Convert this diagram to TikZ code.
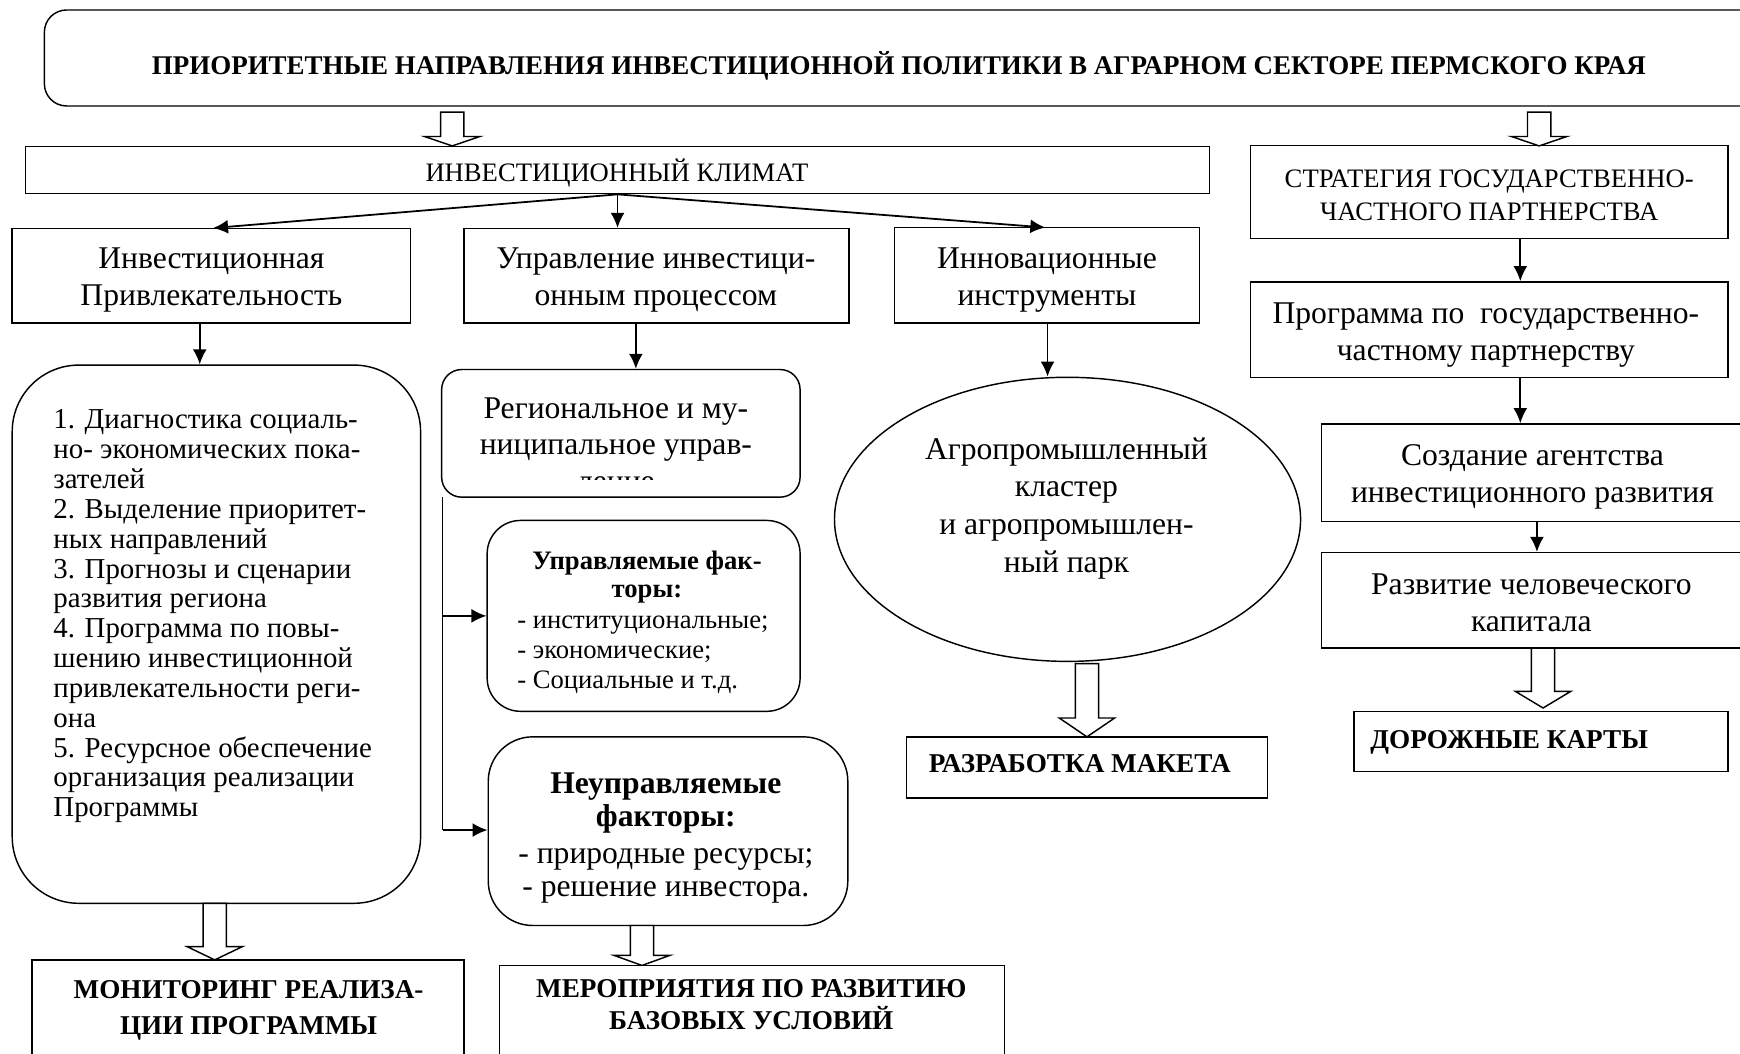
\documentclass[tikz,border=0pt]{standalone}
\usepackage{fontspec}
\setmainfont{Liberation Serif}
\usetikzlibrary{arrows.meta,shapes.geometric,calc}
\newcommand\fs[2]{\fontsize{#1}{#2}\selectfont}
\tikzset{
  bx/.style={draw, line width=1.3pt, inner sep=0pt},
  ar/.style={line width=1.6pt, -{Latex[length=13.5pt,width=12.5pt]}},
  ho/.style={draw, line width=1.3pt, fill=white, line join=miter},
  tx/.style={inner sep=0pt, align=center},
  big/.style={font=\fs{28.5}{33}},
  mid/.style={font=\fs{24}{29}},
  bcap/.style={font=\fs{24.5}{29}\bfseries},
}
% hollow block arrow: x, top y, head start y, tip y
\newcommand\harr[4]{%
  \draw[ho] ({#1-10.5},#2) -- ({#1-10.5},#3) -- ({#1-25},#3) -- (#1,#4)
    -- ({#1+25},#3) -- ({#1+10.5},#3) -- ({#1+10.5},#2) -- cycle;}
\begin{document}
\begin{tikzpicture}[x=1pt,y=-1pt]
\useasboundingbox (0,0) rectangle (1568,949);
\clip (0,0) rectangle (1568,949);

% title
\node[bx, rounded corners=20pt, minimum width=1620pt, minimum height=86.5pt] (title) at (850,52.25) {};
\node[tx, font=\fs{24.3}{28}\bfseries] (titletxt) at (810,59.5) {ПРИОРИТЕТНЫЕ НАПРАВЛЕНИЯ ИНВЕСТИЦИОННОЙ ПОЛИТИКИ В АГРАРНОМ СЕКТОРЕ ПЕРМСКОГО КРАЯ};

% level 1
\node[bx, minimum width=1067pt, minimum height=42.5pt] (klimat) at (556.5,153.25) {};
\node[tx, mid] (klimattxt) at (556,155.5) {ИНВЕСТИЦИОННЫЙ КЛИМАТ};
\node[bx, minimum width=430pt, minimum height=84pt] (strat) at (1342,173) {};
\node[tx, mid] (strattxt) at (1342,176) {СТРАТЕГИЯ ГОСУДАРСТВЕННО-\\ЧАСТНОГО ПАРТНЕРСТВА};

\harr{407.5}{101}{123}{131.5}
\harr{1387}{101}{123}{131.5}

% level 2
\node[bx, minimum width=359pt, minimum height=85pt] (inv) at (190.5,248.5) {};
\node[tx, big] (invtxt) at (190.5,252.5) {Инвестиционная\\Привлекательность};
\node[bx, minimum width=347pt, minimum height=85pt] (upr) at (591.5,248.5) {};
\node[tx, big] (uprtxt) at (591,252.5) {Управление инвестици-\\онным процессом};
\node[bx, minimum width=275pt, minimum height=86pt] (innov) at (943.5,248) {};
\node[tx, big] (innovtxt) at (943.5,252.5) {Инновационные\\инструменты};

\draw[ar] (klimat.south) -- (192,205.5);
\draw[ar] (klimat.south) -- (klimat.south |- upr.north);
\draw[ar] (klimat.south) -- (942,205);

% left column
\node[bx, rounded corners=60pt, minimum width=368pt, minimum height=485pt] (left) at (195,571.5) {};
\node[inner sep=0pt, align=left, anchor=north west, font=\fs{26}{26.9}] (lefttxt) at (48,369) {1. Диагностика социаль-\\но- экономических пока-\\зателей\\2. Выделение приоритет-\\ных направлений\\3. Прогнозы и сценарии\\развития региона\\4. Программа по повы-\\шению инвестиционной\\привлекательности реги-\\она\\5. Ресурсное обеспечение\\организация реализации\\Программы};
\draw[ar] ([xshift=-10.5pt]inv.south) -- ([xshift=-10.5pt]inv.south |- left.north);

% middle column
\node[bx, rounded corners=18pt, minimum width=323pt, minimum height=115pt] (region) at (559.5,390.5) {};
\begin{scope}
  \clip (398,333) rectangle (721,432);
  \node[tx, big] (regtxt) at (555,400.5) {Региональное и му-\\ниципальное управ-\\ление};
\end{scope}
\draw[ar] ([xshift=-18.5pt]upr.south) -- ([xshift=-18.5pt]upr.south |- region.north);

\node[bx, rounded corners=30pt, minimum width=282pt, minimum height=172pt] (upr2) at (580,555) {};
\node[tx, font=\fs{24}{26}\bfseries] (upr2head) at (583,520) {Управляемые фак-\\торы:};
\node[inner sep=0pt, align=left, anchor=north west, font=\fs{24}{27}] (upr2list) at (466,555) {- институциональные;\\- экономические;\\- Социальные и т.д.};

\node[bx, rounded corners=40pt, minimum width=324pt, minimum height=170pt] (neupr) at (602,749) {};
\node[tx, font=\fs{28.5}{30}] (neuprtxt) at (600,755) {\textbf{Неуправляемые}\\\textbf{факторы:}\\[3pt]- природные ресурсы;\\- решение инвестора.};

\coordinate (vtop) at (399,448);
\coordinate (vbot) at (399,748);
\draw[line width=1.3pt] (vtop) -- (vbot);
\draw[ar] (vtop |- upr2.west) -- (upr2.west);
\draw[ar] (vbot) -- (vbot -| neupr.west);

% ellipse
\node[draw, line width=1.3pt, ellipse, minimum width=420pt, minimum height=256pt, inner sep=0pt] (agro) at (962,468) {};
\node[tx, font=\fs{28.5}{34}] (agrotxt) at (961,458) {Агропромышленный\\кластер\\и агропромышлен-\\ный парк};
\draw[ar] ([xshift=0.5pt]innov.south) -- ([xshift=0.5pt]innov.south |- agro.north);

% right column
\node[bx, minimum width=430pt, minimum height=86pt] (prog) at (1342,297) {};
\node[tx, big] (progtxt) at (1339,302) {Программа по\ \ государственно-\\частному партнерству};
\node[bx, minimum width=389pt, minimum height=88pt] (sozd) at (1385.5,426) {};
\node[tx, big] (sozdtxt) at (1381,429.5) {Создание агентства\\инвестиционного развития};
\node[bx, minimum width=389pt, minimum height=86pt] (razv) at (1385.5,541) {};
\node[tx, big] (razvtxt) at (1380,543) {Развитие человеческого\\капитала};
\draw[ar] ([xshift=28pt]strat.south) -- ([xshift=28pt]strat.south |- prog.north);
\draw[ar] ([xshift=28pt]prog.south) -- ([xshift=28pt]prog.south |- sozd.north);
\draw[ar] ([xshift=-0.5pt]sozd.south) -- ([xshift=-0.5pt]sozd.south |- razv.north);

% bottom boxes
\node[bx, minimum width=325pt, minimum height=55pt] (razr) at (979.5,691.5) {};
\node[tx, bcap] (razrtxt) at (973,688) {РАЗРАБОТКА МАКЕТА};
\node[bx, minimum width=337pt, minimum height=54pt] (dor) at (1388.5,668) {};
\node[tx, bcap] (dortxt) at (1360,669) {ДОРОЖНЫЕ КАРТЫ};
\node[bx, minimum width=389pt, minimum height=115pt] (mon) at (223.5,922.5) {};
\node[tx, font=\fs{24.5}{32}\bfseries] (montxt) at (224,910.5) {МОНИТОРИНГ РЕАЛИЗА-\\ЦИИ ПРОГРАММЫ};
\node[bx, minimum width=455pt, minimum height=110pt] (mer) at (677.5,925) {};
\node[tx, bcap] (mertxt) at (677,905.5) {МЕРОПРИЯТИЯ ПО РАЗВИТИЮ\\БАЗОВЫХ УСЛОВИЙ};

\harr{193.5}{814}{853}{865}
\harr{578.5}{834}{861}{870}
\harr{979.5}{598}{647}{664}
\harr{1390.5}{584}{623}{638}
\end{tikzpicture}
\end{document}
